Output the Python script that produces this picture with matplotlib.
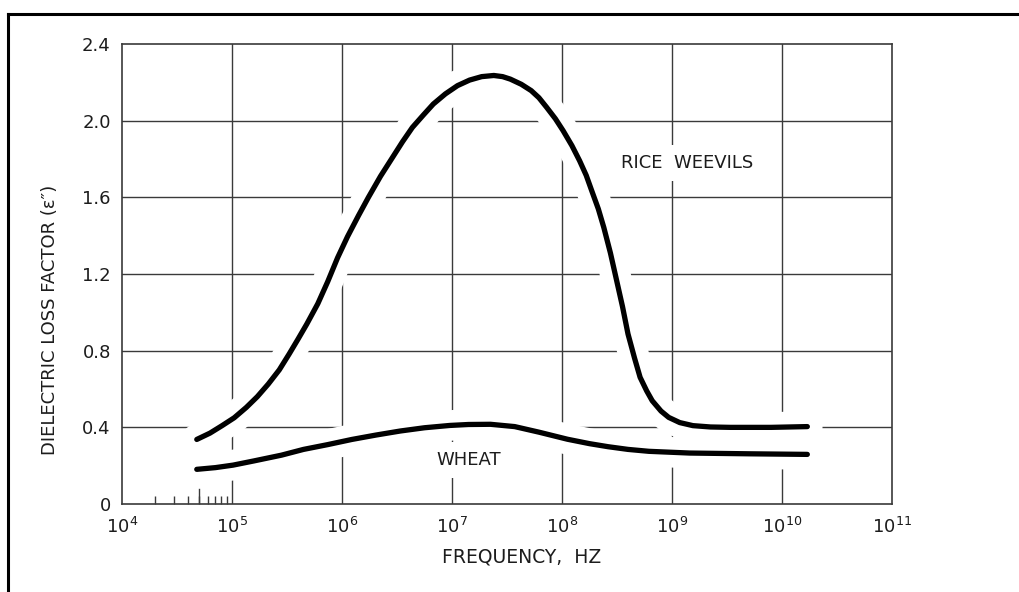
import matplotlib
matplotlib.use('Agg')
import matplotlib.pyplot as plt
import numpy as np
from matplotlib.lines import Line2D

# ── Loss factor curves: frequency as log10(Hz), loss factor e'' ────────────────
rice_decade = [4.68, 4.80, 4.91, 5.02, 5.13, 5.23, 5.33, 5.43, 5.52, 5.60,
               5.68, 5.78, 5.87, 5.96, 6.05, 6.15, 6.24, 6.35, 6.46, 6.55,
               6.64, 6.74, 6.83, 6.94, 7.05, 7.16, 7.27, 7.38, 7.46, 7.53,
               7.63, 7.72, 7.79, 7.86, 7.94, 8.01, 8.09, 8.16, 8.22, 8.27,
               8.33, 8.38, 8.44, 8.49, 8.55, 8.60, 8.66, 8.71, 8.77, 8.82,
               8.90, 8.97, 9.07, 9.19, 9.35, 9.53, 9.90, 10.23]
rice_loss = [0.337, 0.37, 0.409, 0.45, 0.504, 0.56, 0.626, 0.70, 0.783, 0.86,
             0.939, 1.045, 1.16, 1.285, 1.395, 1.505, 1.60, 1.71, 1.809, 1.89,
             1.965, 2.03, 2.087, 2.14, 2.183, 2.212, 2.23, 2.236, 2.23, 2.217,
             2.19, 2.157, 2.12, 2.07, 2.01, 1.948, 1.87, 1.791, 1.715, 1.635,
             1.54, 1.443, 1.31, 1.183, 1.03, 0.887, 0.76, 0.661, 0.59, 0.539,
             0.485, 0.452, 0.425, 0.409, 0.402, 0.400, 0.400, 0.404]

wheat_decade = [4.68, 4.85, 5.01, 5.20, 5.45, 5.65, 5.87, 6.09, 6.31, 6.53,
                6.75, 6.98, 7.15, 7.35, 7.57, 7.79, 8.05, 8.25, 8.42, 8.60,
                8.79, 9.16, 9.71, 10.23]
wheat_loss = [0.181, 0.19, 0.203, 0.225, 0.255, 0.285, 0.31, 0.337, 0.36, 0.381,
              0.398, 0.41, 0.415, 0.416, 0.404, 0.375, 0.338, 0.315, 0.299, 0.285,
              0.275, 0.266, 0.262, 0.259]

x_ticks = [1e4, 1e5, 1e6, 1e7, 1e8, 1e9, 1e10, 1e11]
x_tick_labels = [r'$10^{4}$', r'$10^{5}$', r'$10^{6}$', r'$10^{7}$',
                 r'$10^{8}$', r'$10^{9}$', r'$10^{10}$', r'$10^{11}$']
y_ticks = [0, 0.4, 0.8, 1.2, 1.6, 2.0, 2.4]
y_tick_labels = ['0', '0.4', '0.8', '1.2', '1.6', '2.0', '2.4']
minor_ticks = [2e4, 3e4, 4e4, 5e4, 6e4, 7e4, 8e4, 9e4]

INK = '#1c1c1c'
GRID = '#3a3a3a'

plt.rcParams['font.family'] = ['DejaVu Sans']
plt.rcParams['mathtext.default'] = 'regular'

rice_freq = np.power(10.0, rice_decade)
wheat_freq = np.power(10.0, wheat_decade)

fig = plt.figure(figsize=(10.19, 5.92), dpi=100)
ax = fig.add_axes([0.1197, 0.1486, 0.7557, 0.7770])

ax.set_xscale('log')
ax.set_xlim(1e4, 1e11)
ax.set_ylim(0, 2.4)

# grid drawn by hand so the white halos can break it
for xv in x_ticks[1:-1]:
    ax.axvline(xv, color=GRID, lw=1.0, zorder=1)
for yv in y_ticks[1:-1]:
    ax.axhline(yv, color=GRID, lw=1.0, zorder=1)

# white halos under the curves leave gaps in the grid
curves = [(rice_freq, rice_loss), (wheat_freq, wheat_loss)]
for fx, fy in curves:
    ax.plot(fx, fy, color='white', lw=22, solid_capstyle='round',
            solid_joinstyle='round', zorder=2)
for fx, fy in curves:
    ax.plot(fx, fy, color='black', lw=3.8, solid_capstyle='round',
            solid_joinstyle='round', zorder=3)

box = dict(boxstyle='square,pad=0.5', fc='white', ec='none')
ax.text(1.37e9, 1.78, 'RICE  WEEVILS', fontsize=13, color=INK,
        ha='center', va='center', bbox=box, zorder=4)
ax.text(1.41e7, 0.23, 'WHEAT', fontsize=13, color=INK,
        ha='center', va='center', bbox=box, zorder=4)

for sp in ax.spines.values():
    sp.set_color(GRID)
    sp.set_linewidth(1.2)
    sp.set_zorder(5)

ax.set_xticks(x_ticks)
ax.set_xticklabels(x_tick_labels)
ax.set_yticks(y_ticks)
ax.set_yticklabels(y_tick_labels)
ax.set_xticks(minor_ticks, minor=True)
ax.xaxis.set_minor_formatter(plt.NullFormatter())
ax.tick_params(which='major', length=0, labelsize=13, colors=INK)
ax.tick_params(axis='x', which='major', pad=9)
ax.tick_params(axis='y', which='major', pad=8)
ax.tick_params(axis='x', which='minor', direction='in', length=6,
               width=1.0, color=GRID)
ax.axvline(5e4, ymax=0.033, color=GRID, lw=1.0)

fig.text(522 / 1019, 1 - 557 / 592, 'FREQUENCY,  HZ', fontsize=13.5,
         color=INK, ha='center', va='center')
fig.text(50 / 1019, 1 - 320 / 592, 'DIELECTRIC LOSS FACTOR (ε″)',
         fontsize=13, color=INK, ha='center', va='center', rotation=90)

# page frame (left and top edges only)
fig.add_artist(Line2D([8 / 1019, 8 / 1019], [0, 1 - 14 / 592],
                      color='black', lw=2.2))
fig.add_artist(Line2D([8 / 1019, 1], [1 - 14 / 592, 1 - 14 / 592],
                      color='black', lw=2.2))

fig.savefig('out.png', dpi=100)
